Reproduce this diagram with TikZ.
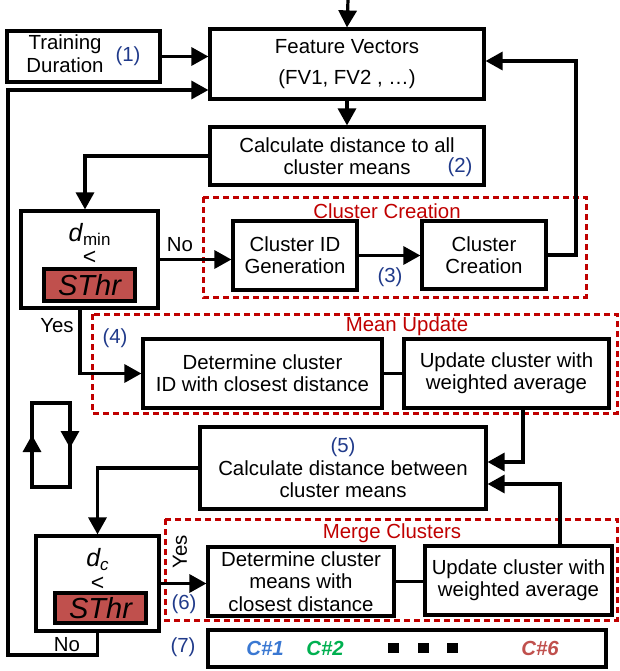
\documentclass[tikz,border=0pt]{standalone}
\usepackage{fontspec}
\setmainfont{Liberation Sans}
\usetikzlibrary{positioning, calc, arrows.meta}
\definecolor{numblue}{RGB}{32,58,138}
\definecolor{titlered}{RGB}{192,0,0}
\definecolor{thrred}{RGB}{192,80,77}
\definecolor{cblue}{RGB}{58,120,210}
\definecolor{cgreen}{RGB}{0,176,80}
\definecolor{cred}{RGB}{192,80,77}
\newcommand{\diafont}{\fontsize{10.2}{11.2}\selectfont}
\tikzset{
  box/.style={draw, line width=1.6pt, align=center, inner sep=0pt},
  thrbox/.style={draw, line width=1.6pt, fill=thrred, inner sep=0pt, font=\fontsize{14.5}{15}\selectfont\itshape},
  grp/.style={draw=titlered, line width=1.5pt, dash pattern=on 3pt off 2pt},
  con/.style={line width=1.6pt},
  arr/.style={line width=1.6pt, -{Triangle[length=8.5pt,width=9pt]}},
  num/.style={text=numblue},
  grptitle/.style={text=titlered},
  cmptext/.style={font=\fontsize{12.5}{13}\selectfont, inner sep=0pt, anchor=base},
  lesstext/.style={font=\fontsize{11.5}{12}\selectfont, inner sep=0pt, anchor=base},
  clabel/.style={font=\diafont\bfseries\itshape},
  dot/.style={fill, minimum width=5.5pt, minimum height=5pt, inner sep=0pt}
}
\begin{document}
\begin{tikzpicture}[x=0.5pt, y=-0.5pt, font=\diafont]
  \useasboundingbox (0,0) rectangle (620,671);
  %gruppi tratteggiati
  \draw[grp] (203,197) rectangle (586,297);
  \node[grptitle] (t1) at (387,211) {Cluster Creation};
  \draw[grp] (92,314) rectangle (617,413);
  \node[grptitle] (t2) at (407,326) {Mean Update};
  \draw[grp] (165,519) rectangle (617,620);
  \node[grptitle] (t3) at (392,533) {Merge Clusters};
  %ingresso
  \node[box, minimum width=76.5pt, minimum height=25.5pt] (td) at (83.5,56.5)
    {\begin{tabular}{@{}c@{}}Training\\Duration\end{tabular}\hspace{6pt}\textcolor{numblue}{(1)}};
  \node[box, minimum width=137pt, minimum height=35pt] (fv) at (347,64)
    {Feature Vectors\\[4pt](FV1, FV2 , …)};
  \node[box, minimum width=137pt, minimum height=29pt] (calc1) at (347,156)
    {Calculate distance to all\\cluster means};
  \node[num] (n2) at (460,167) {(2)};
  %primo confronto
  \node[box, minimum width=68.5pt, minimum height=48.5pt] (cmp1) at (89.5,259.5) {};
  \node[cmptext] (dmin) at (89.5,241) {\textit{d}{\fontsize{8.5}{9}\selectfont\raisebox{-2pt}{min}}};
  \node[lesstext] (lt1) at (89.5,264) {<};
  \node[thrbox, minimum width=45.5pt, minimum height=16pt] (thr1) at (89.5,285) {SThr};
  %creazione cluster
  \node[box, minimum width=62pt, minimum height=34.5pt] (cid) at (295,255.5) {Cluster ID\\Generation};
  \node[box, minimum width=62pt, minimum height=34pt] (ccr) at (484,255) {Cluster\\Creation};
  \node[num] (n3) at (390,277) {(3)};
  \node (no1) at (180,245) {No};
  %aggiornamento media
  \node[box, minimum width=119.5pt, minimum height=34.5pt] (det1) at (262.5,373.5)
    {Determine cluster\\ID with closest distance};
  \node[box, minimum width=102.5pt, minimum height=34.5pt] (upd1) at (506.5,373.5)
    {Update cluster with\\weighted average};
  \node[num] (n4) at (115,338) {(4)};
  \node (yes1) at (57,326) {Yes};
  %distanze tra cluster
  \node[box, minimum width=143pt, minimum height=41pt] (calc2) at (343,468)
    {\textcolor{numblue}{(5)}\\Calculate distance between\\cluster means};
  %secondo confronto
  \node[box, minimum width=61.5pt, minimum height=47.5pt] (cmp2) at (97.5,583.5) {};
  \node[cmptext] (dc) at (97.5,566) {\textit{d{\fontsize{8.5}{9}\selectfont\raisebox{-2pt}{c}}}};
  \node[lesstext] (lt2) at (97.5,590) {<};
  \node[thrbox, minimum width=45.5pt, minimum height=15pt] (thr2) at (100.5,608) {SThr};
  %unione cluster
  \node[box, minimum width=93pt, minimum height=34.5pt] (det2) at (301,581.5)
    {Determine cluster\\means with\\closest distance};
  \node[box, minimum width=93.5pt, minimum height=34.5pt] (upd2) at (518.5,580.5)
    {Update cluster with\\weighted average};
  \node[rotate=90] (yes2) at (180,552) {Yes};
  \node[num] (n6) at (184,604) {(6)};
  %risultato
  \node[box, minimum width=199pt, minimum height=18.5pt] (res) at (407,648.5) {};
  \node[num] (n7) at (183,647) {(7)};
  \node[clabel, text=cblue] (c1) at (265,648) {C\#1};
  \node[clabel, text=cgreen] (c2) at (325,648) {C\#2};
  \foreach \x [count=\i] in {393,423,452}
    \node[dot] (sq\i) at (\x,648) {};
  \node[clabel, text=cred] (c6) at (540,648) {C\#6};
  \node (no2) at (67,645) {No};
  %frecce
  \coordinate (top) at (348,0);
  \coordinate (lb) at (8,655);
  \coordinate (lt) at (8,90);
  \coordinate (rt) at (576,61);
  \draw[arr] (top) -- (fv.north);
  \draw[arr] (td.east) -- (td.east -| fv.west);
  \draw[arr] (cmp2.south) |- (lb) -- (lt) -- (lt -| fv.west);
  \draw[arr] (fv.south) -- (calc1.north);
  \draw[arr] (calc1.west) -| ([xshift=-2.25pt]cmp1.north);
  \draw[arr] (cmp1.east) -- (cmp1.east -| cid.west);
  \draw[arr] (cid.east) -- (cid.east -| ccr.west);
  \draw[arr] (ccr.east) -| (rt) -- (rt -| fv.east);
  \draw[arr] ([xshift=-4.75pt]cmp1.south) |- (det1.west);
  \draw[con] (det1.east) -- (upd1.west);
  \draw[arr] ([xshift=8.25pt]upd1.south) |- ([yshift=3pt]calc2.east);
  \draw[arr] ([xshift=20.75pt]upd2.north) |- ([yshift=-8pt]calc2.east);
  \draw[arr] (calc2.west) -| (cmp2.north);
  \draw[arr] (cmp2.east) -- (cmp2.east -| det2.west);
  \draw[con] (det2.east) -- (det2.east -| upd2.west);
  %ciclo
  \draw[con] (32,403) rectangle (70,487);
  \draw[arr] (32,465) -- (32,435);
  \draw[arr] (70,420) -- (70,448);
\end{tikzpicture}
\end{document}
